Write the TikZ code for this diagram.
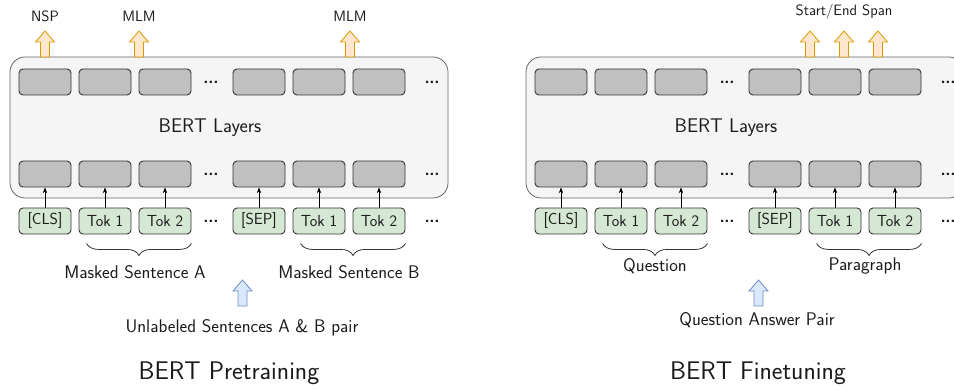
\documentclass[tikz,border=0pt]{standalone}
\usepackage{tikz}
\usetikzlibrary{arrows.meta, positioning, decorations.pathreplacing}
\definecolor{PanelFill}{HTML}{F5F5F5}
\definecolor{PanelLine}{HTML}{666666}
\definecolor{LayerFill}{HTML}{C0C0C0}
\definecolor{BoxLine}{HTML}{333333}
\definecolor{TokFill}{HTML}{D5E8D4}
\definecolor{OutFill}{HTML}{FFE6CC}
\definecolor{OutLine}{HTML}{D79B00}
\definecolor{InFill}{HTML}{DAE8FC}
\definecolor{InLine}{HTML}{6C8EBF}
\definecolor{Ink}{HTML}{1A1A1A}
\newcommand{\fsz}[1]{\fontsize{#1}{#1}\selectfont}
\newcommand{\ddd}{\textbf{.\kern-0.3pt.\kern-0.3pt.}}

\begin{document}
\begin{tikzpicture}[
        x=1pt, y=-1pt,
        >=Stealth,
        font=\sffamily, text=Ink,
        panel/.style={draw=PanelLine, fill=PanelFill, line width=0.8pt, rounded corners=15pt, minimum width=438pt, minimum height=141pt},
        layer/.style={draw=BoxLine, fill=LayerFill, line width=0.9pt, rounded corners=4pt, minimum width=52pt, minimum height=26pt, inner sep=0pt},
        token/.style={layer, fill=TokFill, font=\sffamily\fsz{16}},
        dots/.style={font=\sffamily\fsz{17}, inner sep=0pt},
        head/.style={font=\sffamily\fsz{15}},
        caption/.style={font=\sffamily\fsz{18.3}},
        title/.style={font=\sffamily\fsz{25.5}},
        feed/.style={->, line width=0.6pt, black},
        brace/.style={decorate, decoration={brace, mirror, amplitude=12pt}, line width=0.8pt, BoxLine},
        outarrow/.style={draw=OutLine, fill=OutFill, line width=0.8pt},
        inarrow/.style={draw=InLine, fill=InFill, line width=0.8pt},
        fat arrow/.pic={\path[pic actions] (-4.5,0) -- (-4.5,-15) -- (-9.5,-15) -- (0,-26) -- (9.5,-15) -- (4.5,-15) -- (4.5,0) -- cycle;}
    ]
    \useasboundingbox (0,0) rectangle (954,390);

    % both panels share the same stack of layers and tokens
    \foreach \p/\sx in {A/0, B/516} {
        \node[panel] (body\p) at (229+\sx, 127.5) {};
        \foreach \i/\cx/\txt in {1/45/{[CLS]}, 2/105/{Tok 1}, 3/165/{Tok 2}, 4/259/{[SEP]}, 5/319/{Tok 1}, 6/379/{Tok 2}} {
            \node[layer] (u\p\i) at (\cx+\sx, 82) {};
            \node[layer] (l\p\i) at (\cx+\sx, 174) {};
            \node[token] (t\p\i) at (\cx+\sx, 221) {\txt};
            \draw[feed] (t\p\i) -- (l\p\i);
        }
        \foreach \r/\ry in {u/82, l/174, t/221} {
            \node[dots] (\r\p dots1) at (211+\sx, \ry) {\ddd};
            \node[dots] (\r\p dots2) at (432+\sx, \ry) {\ddd};
        }
        \node[font=\sffamily\fsz{19.8}] (layers\p) at (210+\sx, 128) {BERT Layers};
        \pic[inarrow] at (242.5+\sx, 306) {fat arrow};
    }

    % pretraining heads and inputs
    \pic[outarrow] at (45,57) {fat arrow};
    \pic[outarrow] at (139,57) {fat arrow};
    \pic[outarrow] at (350,57) {fat arrow};
    \node[head] (nsp) at (45,16) {NSP};
    \node[head] (mlmA) at (139,16) {MLM};
    \node[head] (mlmB) at (350,16) {MLM};

    \draw[brace] ([xshift=8pt,yshift=-9pt]tA2.south west) -- ([yshift=-9pt]tA3.south east);
    \draw[brace] ([xshift=8pt,yshift=-9pt]tA5.south west) -- ([yshift=-9pt]tA6.south east);
    \node[caption] (sentA) at (135,272) {Masked Sentence A};
    \node[caption] (sentB) at (349,272) {Masked Sentence B};
    \node[caption] (pairA) at (242,328) {Unlabeled Sentences A \& B pair};
    \node[title] (preA) at (229,373) {BERT Pretraining};

    % finetuning heads and inputs
    \pic[outarrow] at (810,57) {fat arrow};
    \pic[outarrow] at (844,57) {fat arrow};
    \pic[outarrow] at (878,57) {fat arrow};
    \node[head] (span) at (844,12) {Start/End Span};

    \draw[brace] ([xshift=8pt,yshift=-9pt]tB2.south west) -- ([yshift=-9pt]tB3.south east);
    \draw[brace] ([xshift=8pt,yshift=-9pt]tB5.south west) -- ([yshift=-9pt]tB6.south east);
    \node[caption] (ques) at (655,266) {Question};
    \node[caption] (para) at (865,266) {Paragraph};
    \node[caption] (pairB) at (757,320) {Question Answer Pair};
    \node[title] (fineB) at (758,373) {BERT Finetuning};

\end{tikzpicture}
\end{document}
